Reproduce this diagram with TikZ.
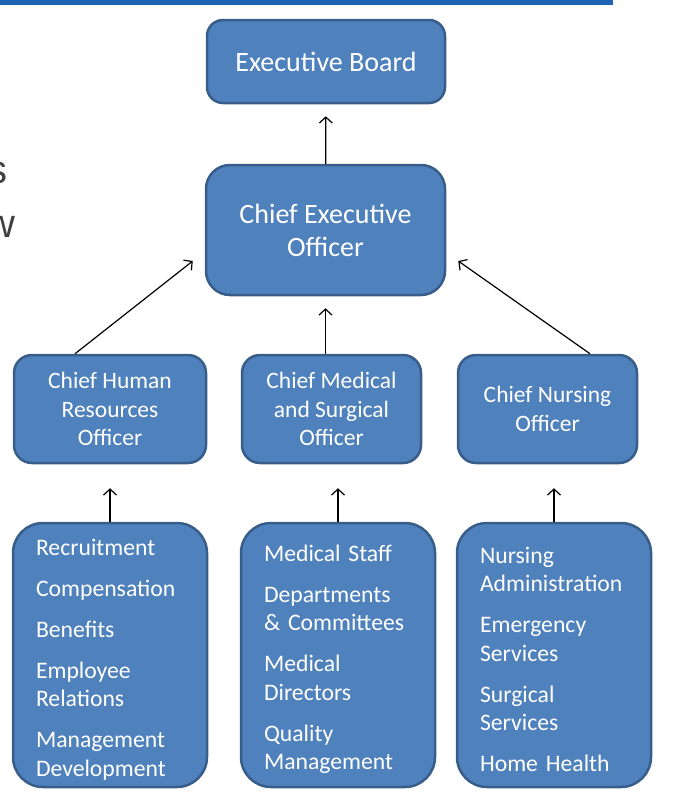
\documentclass[tikz,border=0pt]{standalone}
\usepackage{fontspec}
\setmainfont{Carlito}
\newfontfamily\slidefont{Liberation Sans}
\usetikzlibrary{arrows.meta}

\definecolor{boxblue}{RGB}{79,129,189}
\definecolor{boxedge}{RGB}{56,93,138}
\definecolor{barblue}{RGB}{30,100,180}
\definecolor{slidegray}{RGB}{64,64,64}

\begin{document}
\begin{tikzpicture}[x=1pt, y=-1pt,
    >={Straight Barb[length=6pt, width=13pt]},
    unit/.style={draw=boxedge, line width=2.5pt, fill=boxblue, text=white, align=center, inner sep=0pt},
    head/.style={unit, rounded corners=16pt, font=\fontsize{28}{33}\selectfont},
    chief/.style={unit, rounded corners=18pt, minimum height=108pt, font=\fontsize{23.5}{28.5}\selectfont,
        execute at begin node={\rule{0pt}{27pt}}},
    duties/.style={unit, rounded corners=30pt, align=left, text width=148pt, inner xsep=23pt,
        minimum height=264pt, font=\fontsize{23.7}{28.5}\selectfont,
        execute at begin node={\rule{0pt}{25pt}}},
    link/.style={->, line width=1.2pt}]
    \useasboundingbox (0, 0) rectangle (674, 796);

    % slide leftovers
    \fill [barblue] (0, 0) rectangle (613, 5);
    \node [anchor=base east, inner sep=0pt, text=slidegray, font=\slidefont\fontsize{40}{40}\selectfont] (cut1) at (4, 66) {,};
    \node [anchor=base east, inner sep=0pt, text=slidegray, font=\slidefont\fontsize{40}{40}\selectfont] (cut2) at (8, 183) {s};
    \node [anchor=base east, inner sep=0pt, text=slidegray, font=\slidefont\fontsize{40}{40}\selectfont] (cut3) at (16, 237) {w};

    % top of the chart
    \node [head, minimum width=238pt, minimum height=83pt] (board) at (326, 61.5) {Executive Board};
    \node [head, rounded corners=24pt, minimum width=239pt, minimum height=130pt] (ceo) at (325.5, 230) {Chief Executive\\Officer};

    % chiefs
    \node [chief, minimum width=192pt] (hr) at (110, 409) {Chief Human\\Resources\\Officer};
    \node [chief, minimum width=179pt] (med) at (331.5, 409) {Chief Medical\\and Surgical\\Officer};
    \node [chief, minimum width=179pt] (nurse) at (547.5, 409) {Chief Nursing\\Officer};

    % what each chief looks after
    \node [duties] (hrlist) at (110, 655) {Recruitment\\[12.5pt]Compensation\\[12.5pt]Benefits\\[12.5pt]Employee\\Relations\\[12.5pt]Management\\Development};
    \node [duties] (medlist) at (338, 655) {Medical Staff\\[12.5pt]Departments\\\& Committees\\[12.5pt]Medical\\Directors\\[12.5pt]Quality\\Management};
    \node [duties] (nurselist) at (554, 655) {Nursing\\Administration\\[12.5pt]Emergency\\Services\\[12.5pt]Surgical\\Services\\[12.5pt]Home Health};

    % reporting lines
    \draw [link, shorten >=12pt] (ceo) -- (board);
    \draw [link, shorten >=12pt] (ceo.south |- med.north) -- (ceo.south);
    \draw [link] ([xshift=-35pt]hr.north) -- ([xshift=-12pt, yshift=-31pt]ceo.west);
    \draw [link] ([xshift=42.5pt]nurse.north) -- ([xshift=12pt, yshift=-31pt]ceo.east);
    \draw [link, shorten >=24pt] (hrlist.north) -- (hrlist.north |- hr.south);
    \draw [link, shorten >=24pt] (medlist.north) -- (medlist.north |- med.south);
    \draw [link, shorten >=24pt] (nurselist.north) -- (nurselist.north |- nurse.south);
\end{tikzpicture}
\end{document}
